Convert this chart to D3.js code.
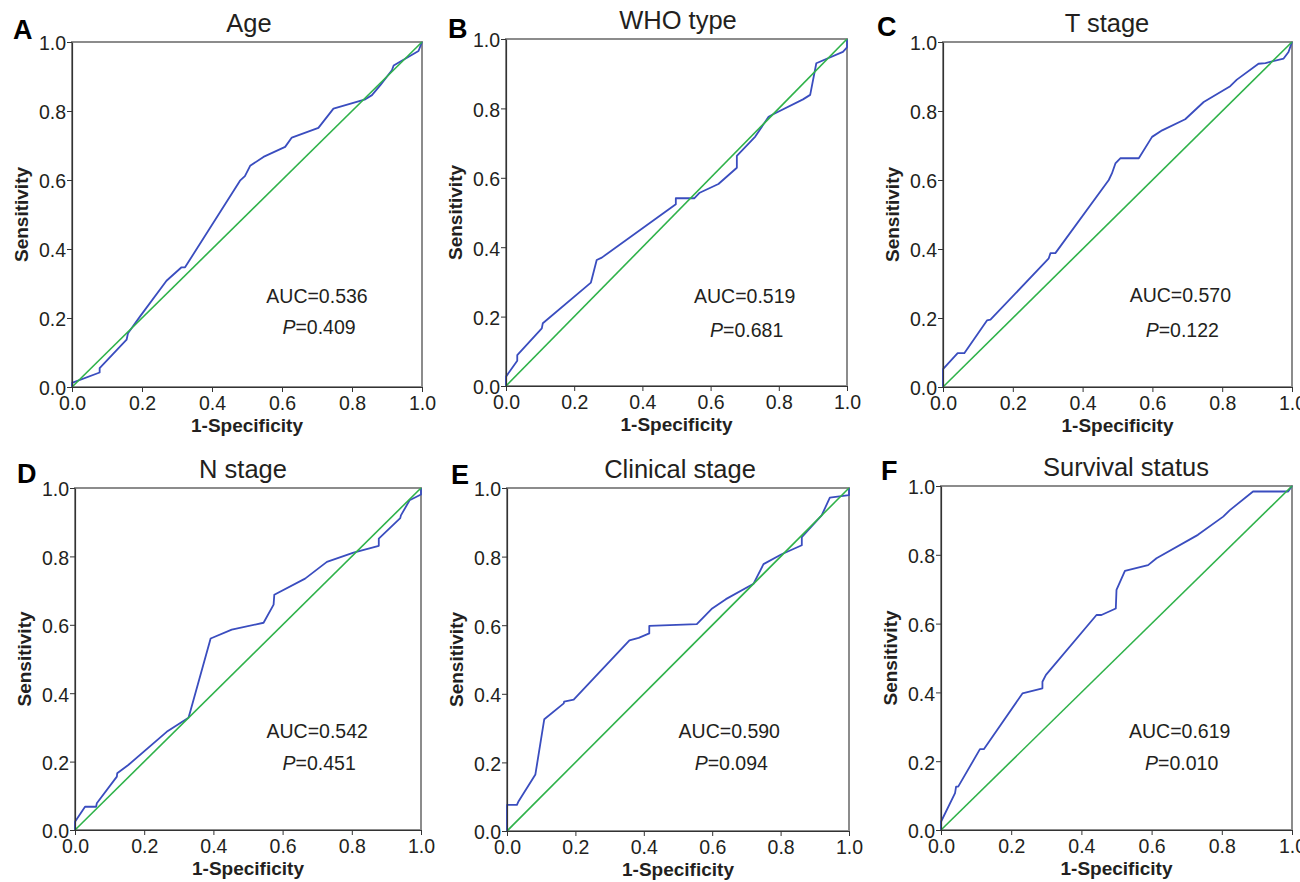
<!DOCTYPE html>
<html>
<head>
<meta charset="utf-8">
<script src="https://cdn.jsdelivr.net/npm/d3@7"></script>
<style>
  body { margin: 0; background: #fff; }
  svg { display: block; font-family: "Liberation Sans", Arial, sans-serif; }
  .tick text { fill: #231f20; }
</style>
</head>
<body>
<svg id="chart" width="1300" height="882"></svg>
<script>
// ROC curves: [1-specificity, sensitivity]
const ageRoc = [[0,0],[0,0.012],[0.079,0.042],[0.079,0.055],[0.156,0.137],[0.16,0.156],[0.194,0.204],
  [0.27,0.308],[0.313,0.347],[0.323,0.347],[0.48,0.598],[0.494,0.611],[0.509,0.641],[0.547,0.667],
  [0.609,0.696],[0.628,0.723],[0.704,0.751],[0.747,0.807],[0.838,0.834],[0.857,0.846],[0.881,0.875],
  [0.914,0.918],[0.919,0.932],[0.99,0.974],[1,1]];
const whoRoc = [[0,0],[0,0.027],[0.033,0.073],[0.033,0.089],[0.105,0.166],[0.108,0.181],[0.249,0.298],
  [0.266,0.363],[0.281,0.37],[0.498,0.524],[0.498,0.541],[0.552,0.541],[0.568,0.557],[0.623,0.582],
  [0.677,0.629],[0.677,0.663],[0.731,0.719],[0.77,0.776],[0.785,0.784],[0.871,0.826],[0.892,0.839],
  [0.91,0.93],[0.988,0.963],[1,0.976],[1,1]];
const tStageRoc = [[0,0],[0,0.052],[0.042,0.098],[0.061,0.098],[0.126,0.193],[0.136,0.195],[0.303,0.373],
  [0.308,0.388],[0.322,0.388],[0.475,0.6],[0.484,0.619],[0.494,0.648],[0.508,0.663],[0.561,0.663],
  [0.599,0.725],[0.628,0.744],[0.694,0.776],[0.747,0.826],[0.823,0.872],[0.842,0.891],[0.904,0.937],
  [0.924,0.939],[0.976,0.952],[0.99,0.971],[1,1]];
const nStageRoc = [[0,0],[0,0.024],[0.029,0.068],[0.061,0.068],[0.063,0.078],[0.121,0.156],[0.122,0.166],
  [0.154,0.19],[0.265,0.287],[0.328,0.328],[0.333,0.346],[0.392,0.56],[0.453,0.586],[0.545,0.606],
  [0.574,0.659],[0.576,0.688],[0.665,0.735],[0.728,0.784],[0.805,0.811],[0.878,0.831],[0.878,0.852],
  [0.94,0.912],[0.942,0.92],[0.967,0.964],[1,0.981],[1,1]];
const clinicalRoc = [[0,0],[0,0.076],[0.029,0.076],[0.034,0.087],[0.083,0.165],[0.109,0.326],[0.166,0.372],
  [0.167,0.377],[0.195,0.383],[0.358,0.556],[0.385,0.563],[0.416,0.576],[0.416,0.598],[0.555,0.603],
  [0.6,0.649],[0.64,0.676],[0.721,0.721],[0.75,0.778],[0.803,0.807],[0.862,0.833],[0.862,0.857],
  [0.92,0.92],[0.944,0.972],[1,0.979],[1,1]];
const survivalRoc = [[0,0],[0,0.024],[0.04,0.107],[0.043,0.126],[0.049,0.126],[0.111,0.235],[0.122,0.235],
  [0.232,0.397],[0.289,0.412],[0.289,0.431],[0.299,0.451],[0.443,0.625],[0.457,0.625],[0.498,0.644],
  [0.5,0.698],[0.524,0.753],[0.59,0.77],[0.614,0.79],[0.732,0.858],[0.804,0.911],[0.823,0.93],
  [0.889,0.984],[0.989,0.984],[1,1]];
const referenceLine = [[0,0],[1,1]];

const panelLetters = ['A','B','C','D','E','F'];
const panelTitles = ['Age','WHO type','T stage','N stage','Clinical stage','Survival status'];
const aucValues = ['0.536','0.519','0.570','0.542','0.590','0.619'];
const pValues = ['0.409','0.681','0.122','0.451','0.094','0.010'];
const curves = [ageRoc, whoRoc, tStageRoc, nStageRoc, clinicalRoc, survivalRoc];
const tickValues = [0, 0.2, 0.4, 0.6, 0.8, 1.0];

// plot frames in page pixels, plus where the labels sit
const frames = [
  {l: 72,  r: 422,  t: 42,  b: 387, titleX: 249,  letterX: 13,  letterY: 39,  statX: 0.70, aucY: 0.243, pY: 0.155},
  {l: 506, r: 847,  t: 39,  b: 386, titleX: 678,  letterX: 448, letterY: 38,  statX: 0.70, aucY: 0.24,  pY: 0.14},
  {l: 943, r: 1292, t: 42,  b: 387, titleX: 1107, letterX: 877, letterY: 36,  statX: 0.68, aucY: 0.247, pY: 0.145},
  {l: 75,  r: 421,  t: 488, b: 830, titleX: 243,  letterX: 17,  letterY: 483, statX: 0.70, aucY: 0.27,  pY: 0.175},
  {l: 507, r: 849,  t: 488, b: 831, titleX: 680,  letterX: 451, letterY: 484, statX: 0.65, aucY: 0.27,  pY: 0.178},
  {l: 941, r: 1292, t: 486, b: 830, titleX: 1126, letterX: 881, letterY: 480, statX: 0.68, aucY: 0.267, pY: 0.175}
];

const svg = d3.select('#chart');
const fmt = d3.format('.1f');

curves.forEach((curve, i) => {
  const f = frames[i];
  const x = d3.scaleLinear().domain([0, 1]).range([f.l, f.r]);
  const y = d3.scaleLinear().domain([0, 1]).range([f.b, f.t]);
  const g = svg.append('g');

  // grey frame (top / right)
  g.append('rect')
    .attr('x', f.l).attr('y', f.t)
    .attr('width', f.r - f.l).attr('height', f.b - f.t)
    .attr('fill', 'none')
    .attr('stroke', '#8c8c8c')
    .attr('stroke-width', 2);

  const line = d3.line().x(d => x(d[0])).y(d => y(d[1]));

  g.append('path')
    .datum(curve)
    .attr('d', line)
    .attr('fill', 'none')
    .attr('stroke', '#3a4dbf')
    .attr('stroke-width', 1.8)
    .attr('stroke-linejoin', 'round');

  g.append('path')
    .datum(referenceLine)
    .attr('d', line)
    .attr('fill', 'none')
    .attr('stroke', '#2fb24a')
    .attr('stroke-width', 1.6);

  // axes
  const xAxis = g.append('g')
    .attr('transform', `translate(0,${f.b})`)
    .call(d3.axisBottom(x).tickValues(tickValues).tickFormat(fmt).tickSize(5).tickSizeOuter(0).tickPadding(4));
  const yAxis = g.append('g')
    .attr('transform', `translate(${f.l},0)`)
    .call(d3.axisLeft(y).tickValues(tickValues).tickFormat(fmt).tickSize(5).tickSizeOuter(0).tickPadding(1));
  [xAxis, yAxis].forEach(a => {
    a.attr('font-family', null).attr('font-size', null);
    a.select('.domain').attr('stroke', '#333').attr('stroke-width', 1.2);
    a.selectAll('.tick line').attr('stroke', '#333');
    a.selectAll('.tick text').style('font-size', '19.5px');
  });
  yAxis.selectAll('.tick text').attr('dy', '0.4em');

  // axis titles
  g.append('text')
    .attr('x', (f.l + f.r) / 2)
    .attr('y', f.b + 45)
    .attr('text-anchor', 'middle')
    .style('font-size', '19px')
    .style('font-weight', 'bold')
    .attr('fill', '#231f20')
    .text('1-Specificity');

  g.append('text')
    .attr('transform', `translate(${f.l - 44},${(f.t + f.b) / 2}) rotate(-90)`)
    .attr('text-anchor', 'middle')
    .style('font-size', '19px')
    .style('font-weight', 'bold')
    .attr('fill', '#231f20')
    .text('Sensitivity');

  // title + panel letter
  g.append('text')
    .attr('x', f.titleX)
    .attr('y', f.t - 10)
    .attr('text-anchor', 'middle')
    .style('font-size', '25.5px')
    .attr('fill', '#231f20')
    .text(panelTitles[i]);

  g.append('text')
    .attr('x', f.letterX)
    .attr('y', f.letterY)
    .style('font-size', '27px')
    .style('font-weight', 'bold')
    .attr('fill', '#000')
    .text(panelLetters[i]);

  // AUC and P annotations
  g.append('text')
    .attr('x', x(f.statX))
    .attr('y', y(f.aucY))
    .attr('text-anchor', 'middle')
    .style('font-size', '19.5px')
    .attr('fill', '#231f20')
    .text('AUC=' + aucValues[i]);

  const p = g.append('text')
    .attr('x', x(f.statX) + 2)
    .attr('y', y(f.pY))
    .attr('text-anchor', 'middle')
    .style('font-size', '19.5px')
    .attr('fill', '#231f20');
  p.append('tspan').style('font-style', 'italic').text('P');
  p.append('tspan').text('=' + pValues[i]);
});
</script>
</body>
</html>
